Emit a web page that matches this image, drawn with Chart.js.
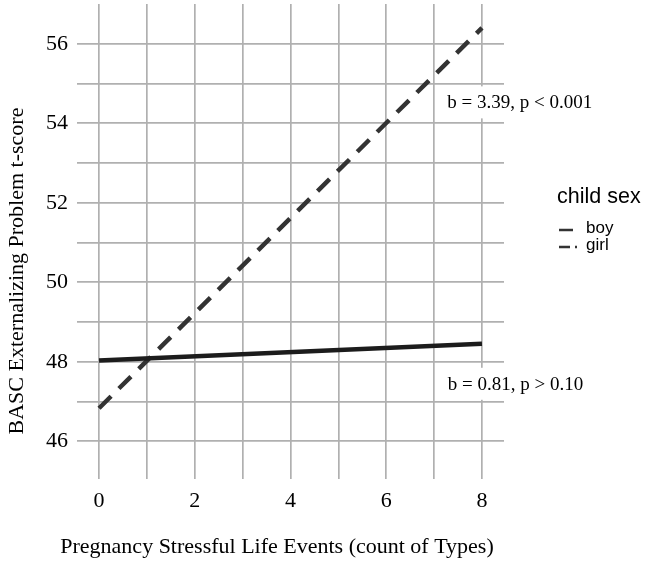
<!DOCTYPE html>
<html>
<head>
<meta charset="utf-8">
<script src="https://cdn.jsdelivr.net/npm/chart.js@4.4.0/dist/chart.umd.min.js"></script>
<style>
  html, body { margin: 0; padding: 0; background: #fff; }
  #wrap { width: 645px; height: 562px; }
</style>
</head>
<body>
<div id="wrap"><canvas id="stressChart"></canvas></div>
<script>
// Data
const stressX = [0, 8];
const boyScores = [48.03, 48.45];
const girlScores = [46.83, 56.4];
const seriesNames = ['boy', 'girl'];
const xTicks = [0, 1, 2, 3, 4, 5, 6, 7, 8];
const yTicks = [46, 47, 48, 49, 50, 51, 52, 53, 54, 55, 56];
const slopeNotes = [
  { text: 'b = 3.39, p < 0.001', x: 8.79, y: 54.5 },
  { text: 'b = 0.81, p > 0.10', x: 8.7, y: 47.42 }
];

const serif = '"Liberation Serif", "Times New Roman", serif';
const sans = '"Liberation Sans", Arial, sans-serif';

document.addEventListener('DOMContentLoaded', function() {
  const ctx = document.getElementById('stressChart').getContext('2d');

  const toPoints = function(ys) {
    return stressX.map(function(x, i) { return { x: x, y: ys[i] }; });
  };

  // notes, axis titles and legend drawn on top of the chart
  const extrasPlugin = {
    id: 'extras',
    afterDraw: function(chart) {
      const c = chart.ctx;
      const xs = chart.scales.x;
      const ys = chart.scales.y;
      c.save();

      // slope notes with white boxes
      c.font = '19px ' + serif;
      c.textAlign = 'center';
      c.textBaseline = 'middle';
      slopeNotes.forEach(function(n) {
        const px = xs.getPixelForValue(n.x);
        const py = ys.getPixelForValue(n.y);
        const w = c.measureText(n.text).width + 6;
        c.fillStyle = '#fff';
        c.fillRect(px - w / 2, py - 17, w, 32);
        c.fillStyle = '#000';
        c.fillText(n.text, px, py);
      });

      // axis titles
      c.font = '22px ' + serif;
      c.fillStyle = '#000';
      c.fillText('Pregnancy Stressful Life Events (count of Types)', 277, 547);
      c.save();
      c.translate(17, 271);
      c.rotate(-Math.PI / 2);
      c.fillText('BASC Externalizing Problem t-score', 0, 0);
      c.restore();

      // legend
      c.textAlign = 'left';
      c.font = '21.5px ' + sans;
      c.fillText('child sex', 557, 197);
      c.font = '17px ' + sans;
      c.strokeStyle = '#333';
      c.lineWidth = 2.5;
      c.beginPath();
      c.moveTo(559, 230); c.lineTo(573, 230);
      c.stroke();
      c.fillText(seriesNames[0], 586, 228);
      c.beginPath();
      c.moveTo(559, 247); c.lineTo(570, 247);
      c.moveTo(575, 247); c.lineTo(577, 247);
      c.stroke();
      c.fillText(seriesNames[1], 586, 245);

      c.restore();
    }
  };

  const config = {
    type: 'line',
    data: {
      datasets: [
        {
          label: seriesNames[0],
          data: toPoints(boyScores),
          borderColor: '#1c1c1c',
          borderWidth: 4.5,
          pointRadius: 0
        },
        {
          label: seriesNames[1],
          data: toPoints(girlScores),
          borderColor: '#333',
          borderWidth: 4.5,
          borderDash: [17, 11],
          pointRadius: 0
        }
      ]
    },
    options: {
      responsive: true,
      maintainAspectRatio: false,
      animation: false,
      layout: {
        padding: { left: 0, right: 141, top: 4, bottom: 0 }
      },
      plugins: {
        legend: { display: false },
        tooltip: { enabled: false }
      },
      scales: {
        x: {
          type: 'linear',
          min: -0.46,
          max: 8.46,
          afterBuildTicks: function(s) {
            s.ticks = xTicks.map(function(v) { return { value: v }; });
          },
          afterFit: function(s) {
            s.height = 83;
            s.paddingLeft = 0;
            s.paddingRight = 0;
          },
          grid: { color: '#b0b0b0', lineWidth: 1.7, drawTicks: false },
          border: { display: false },
          ticks: {
            padding: 9,
            color: '#000',
            font: { family: serif, size: 22 },
            callback: function(v) { return v % 2 === 0 ? v : ''; }
          }
        },
        y: {
          min: 45.05,
          max: 57,
          afterBuildTicks: function(s) {
            s.ticks = yTicks.map(function(v) { return { value: v }; });
          },
          afterFit: function(s) {
            s.width = 77;
            s.paddingTop = 0;
            s.paddingBottom = 0;
          },
          grid: { color: '#b0b0b0', lineWidth: 1.7, drawTicks: false },
          border: { display: false },
          ticks: {
            padding: 9,
            color: '#000',
            font: { family: serif, size: 22 },
            callback: function(v) { return v % 2 === 0 ? v : ''; }
          }
        }
      }
    },
    plugins: [extrasPlugin]
  };

  new Chart(ctx, config);
});
</script>
</body>
</html>
